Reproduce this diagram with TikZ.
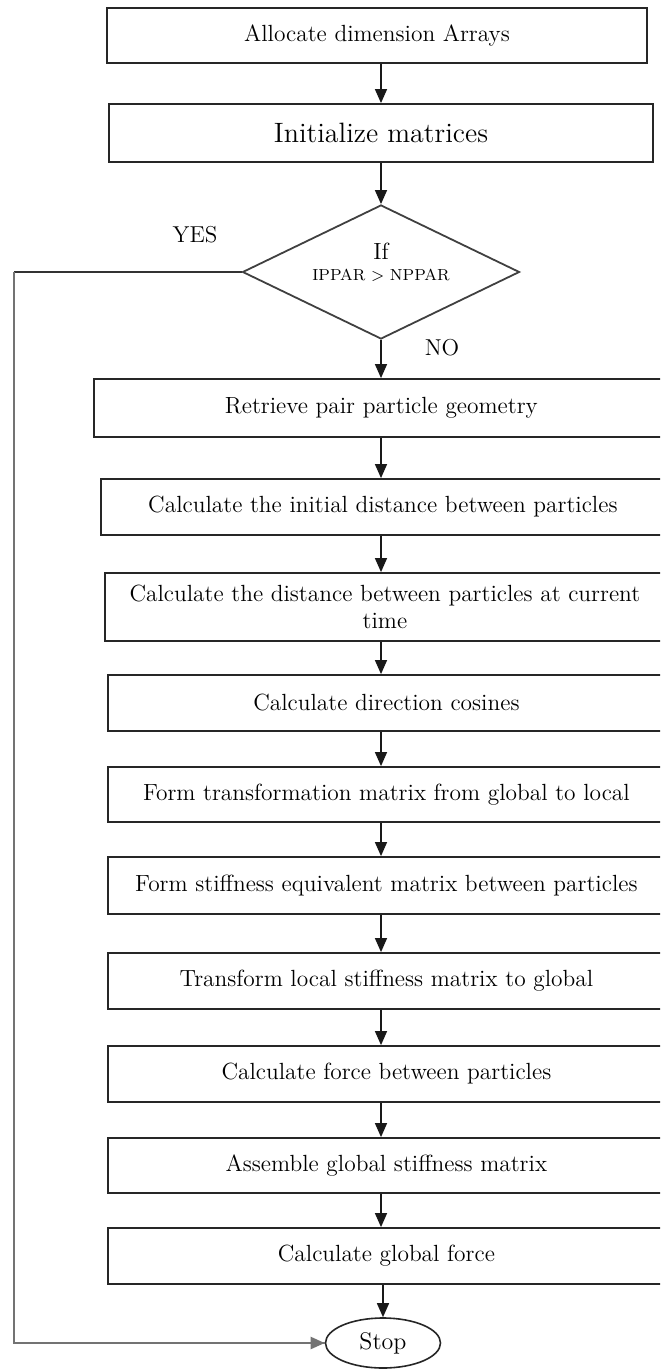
\documentclass[tikz,border=0pt]{standalone}
\usepackage{tikz}
\usetikzlibrary{shapes.geometric, arrows.meta, positioning}

\begin{document}
\begin{tikzpicture}[
    x=0.5pt, y=-0.5pt,
    stepbox/.style={rectangle, draw=black!85, line width=0.9pt, inner sep=0pt, minimum height=28pt, align=center, font=\fontsize{11.7}{13.5}\selectfont},
    wide/.style={stepbox, anchor=west, minimum width=#1},
    decision/.style={diamond, draw=black!75, line width=0.9pt, inner sep=0pt, minimum width=138.5pt, minimum height=67pt},
    terminal/.style={ellipse, draw=black!85, line width=0.8pt, inner sep=0pt, minimum width=57.5pt, minimum height=25pt, font=\fontsize{12}{14}\selectfont},
    tag/.style={font=\fontsize{11.5}{13.5}\selectfont},
    arrow/.style={-{Triangle[length=7pt, width=6pt]}, line width=0.7pt, black!90},
    loopline/.style={line width=1.1pt, black!55}
]
\useasboundingbox (0,0) rectangle (660,1369);
\clip (0,0) rectangle (660,1369);

\coordinate (col) at (381,0);

% Set-up steps
\node[stepbox, minimum width=270pt, minimum height=27.5pt] (alloc) at (377,35.5) {Allocate dimension Arrays};
\node[stepbox, minimum width=272pt, minimum height=29pt, font=\fontsize{14}{16}\selectfont] (init) at (381,133) {Initialize matrices};

% Loop test
\node[decision] (test) at (381,272) {};
\node[align=center, inner sep=0pt, font=\fontsize{11.7}{13.5}\selectfont] (testtext) at (381,262) {If\\[-3pt]{\fontsize{8}{9}\selectfont IPPAR $>$ NPPAR}};
\node[tag] (yes) at (195,235) {YES};
\node[tag] (no) at (442,348) {NO};

% Pair particle steps
\node[wide=287.5pt, minimum height=29pt] (geom) at (93,408) {Retrieve pair particle geometry};
\node[wide=282pt] (dist0) at (100,507) {Calculate the initial distance between particles};
\node[wide=280pt, minimum height=34pt] (dist) at (104,607) {Calculate the distance between particles at current\\time};
\node[wide=278.5pt] (cosines) at (107,703) {Calculate direction cosines};
\node[wide=278.5pt, minimum height=27.5pt] (trans) at (107,794.5) {Form transformation matrix from global to local};
\node[wide=278.5pt, minimum height=28.5pt] (equiv) at (107,885.5) {Form stiffness equivalent matrix between particles};
\node[wide=278.5pt] (kglob) at (107,981) {Transform local stiffness matrix to global};
\node[wide=278.5pt] (force) at (107,1074) {Calculate force between particles};
\node[wide=278.5pt, minimum height=27.5pt] (assemble) at (107,1165.5) {Assemble global stiffness matrix};
\node[wide=278.5pt] (gforce) at (107,1256) {Calculate global force};

% End
\node[terminal] (stop) at (383,1343) {Stop};

% Arrows down the chart
\draw[arrow] (alloc.south -| col) -- (init.north -| col);
\draw[arrow] (init.south -| col) -- (test.north);
\draw[arrow] (test.south) -- (geom.north -| test.south);
\foreach \a/\b in {geom/dist0, dist0/dist, dist/cosines, cosines/trans, trans/equiv, equiv/kglob, kglob/force, force/assemble, assemble/gforce}
    \draw[arrow] (\a.south -| col) -- (\b.north -| col);
\draw[arrow] (gforce.south -| stop.north) -- (stop.north);

% YES branch back to Stop
\coordinate (back) at (14,272);
\draw[line width=0.9pt, black!80] (test.west) -- (back);
\draw[loopline] (back) |- (stop.west);
\draw[arrow, loopline] ([xshift=-20pt]stop.west) -- (stop.west);

\end{tikzpicture}
\end{document}
